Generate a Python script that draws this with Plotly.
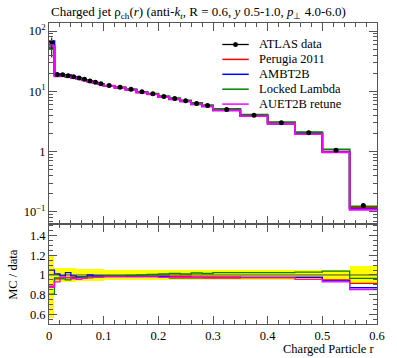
import plotly.graph_objects as go

# bin edges in r
edges = [0.0, 0.01, 0.02, 0.03, 0.04, 0.05, 0.06, 0.07, 0.08, 0.09, 0.10,
         0.12, 0.14, 0.16, 0.18, 0.20, 0.22, 0.24, 0.26, 0.28, 0.30,
         0.35, 0.40, 0.45, 0.50, 0.55, 0.60]

# ATLAS data rho_ch(r)
data = [65, 19.0, 18.8, 18.2, 17.4, 16.7, 15.8, 14.8, 14.1, 13.4,
        12.5, 11.7, 10.8, 9.8, 9.1, 8.2, 7.6, 7.0, 6.3, 5.8,
        5.0, 4.0, 3.0, 2.05, 1.05, 0.128]
# relative data uncertainties (up / down)
rel_err_up = [0.20, 0.07, 0.07, 0.07, 0.07, 0.065, 0.065, 0.06, 0.06, 0.06,
              0.055, 0.055, 0.055, 0.055, 0.055, 0.055, 0.055, 0.055, 0.055, 0.055,
              0.05, 0.05, 0.05, 0.05, 0.05, 0.09]
rel_err_dn = [0.44, 0.07, 0.07, 0.07, 0.07, 0.065, 0.065, 0.06, 0.06, 0.06,
              0.055, 0.055, 0.055, 0.055, 0.055, 0.055, 0.055, 0.055, 0.055, 0.055,
              0.05, 0.05, 0.05, 0.05, 0.05, 0.09]

# MC / data ratios
ratio_perugia = [0.885, 0.96, 0.97, 0.975, 0.975, 0.975, 0.975, 0.98, 0.98, 0.98,
                 0.985, 0.985, 0.985, 0.985, 0.985, 0.985, 0.985, 0.985, 0.98, 0.98,
                 0.98, 0.975, 0.975, 0.975, 0.95, 0.915]
ratio_ambt2b = [1.05, 1.01, 0.99, 1.025, 0.99, 0.98, 0.98, 1.0, 0.99, 0.99,
                0.985, 0.985, 0.985, 0.985, 0.985, 0.985, 0.97, 0.97, 0.97, 0.97,
                0.97, 0.975, 0.975, 0.975, 0.94, 0.87]
ratio_locked = [0.805, 0.97, 0.96, 0.95, 0.965, 0.97, 0.975, 0.98, 0.98, 0.985,
                0.99, 0.99, 0.995, 1.0, 1.005, 1.01, 1.015, 1.01, 1.02, 1.015,
                1.025, 1.025, 1.025, 1.03, 1.04, 0.965]
ratio_auet2b = [0.875, 0.93, 0.975, 0.97, 0.96, 0.955, 0.965, 0.97, 0.975, 0.975,
                0.98, 0.98, 0.98, 0.98, 0.98, 0.975, 0.975, 0.975, 0.975, 0.97,
                0.97, 0.97, 0.97, 0.955, 0.93, 0.85]

mc_names = ["Perugia 2011", "AMBT2B", "Locked Lambda", "AUET2B retune"]
mc_colors = ["#ff0000", "#0000ff", "#008000", "#ff00ff"]
mc_ratios = [ratio_perugia, ratio_ambt2b, ratio_locked, ratio_auet2b]

legend_labels = ["ATLAS data"] + mc_names
legend_colors = ["black"] + mc_colors

x_tickvals = [0, 0.1, 0.2, 0.3, 0.4, 0.5, 0.6]
x_ticktext = ["0", "0.1", "0.2", "0.3", "0.4", "0.5", "0.6"]

centers = [(a + b) / 2 for a, b in zip(edges[:-1], edges[1:])]
widths = [b - a for a, b in zip(edges[:-1], edges[1:])]

FONT = "Liberation Serif"
W, H = 397, 358
ML, MR, MT, MB = 49, 13, 23, 34
PW, PH = W - ML - MR, H - MT - MB

def px_x(px):
    return (px - ML) / PW

def px_y(py):
    return (H - MB - py) / PH

fig = go.Figure()

def step(vals):
    return list(edges), list(vals) + [vals[-1]]

# ---- ratio panel: yellow data band
fig.add_trace(go.Bar(x=centers, width=widths,
                     base=[1 - e for e in rel_err_dn],
                     y=[u + d for u, d in zip(rel_err_up, rel_err_dn)],
                     marker=dict(color="#ffff00", line=dict(width=0)),
                     xaxis="x2", yaxis="y2", showlegend=False, hoverinfo="skip"))
fig.add_trace(go.Scatter(x=[0, 0.6], y=[1, 1], mode="lines",
                         line=dict(color="#444444", width=1),
                         xaxis="x2", yaxis="y2", showlegend=False))

for name, col, rat in zip(mc_names, mc_colors, mc_ratios):
    mc = [d * r for d, r in zip(data, rat)]
    sx, sy = step(mc)
    fig.add_trace(go.Scatter(x=sx, y=sy, mode="lines", line_shape="hv",
                             name=name, line=dict(color=col, width=1.8),
                             xaxis="x", yaxis="y", showlegend=False))
    rx, ry = step(rat)
    fig.add_trace(go.Scatter(x=rx, y=ry, mode="lines", line_shape="hv",
                             name=name, line=dict(color=col, width=1.3),
                             xaxis="x2", yaxis="y2", showlegend=False))

# data markers on top
fig.add_trace(go.Scatter(x=centers, y=data, mode="markers", showlegend=False,
                         name="ATLAS data",
                         marker=dict(color="black", size=5),
                         error_y=dict(type="data", symmetric=False,
                                      array=[v * e for v, e in zip(data, rel_err_up)],
                                      arrayminus=[v * e for v, e in zip(data, rel_err_dn)],
                                      color="black", thickness=1, width=0),
                         xaxis="x", yaxis="y"))

axcol = "#555555"
common = dict(showline=True, linecolor=axcol, linewidth=1, mirror="ticks",
              ticks="inside", tickcolor=axcol, showgrid=False, zeroline=False)

minor_log = [m * 10 ** k for k in (-2, -1, 0, 1, 2) for m in range(2, 10)]

# manual legend (lines + text)
shapes = []
annotations = []
leg_x0, leg_x1, leg_tx = 226, 253, 261
for i, (lab, col) in enumerate(zip(legend_labels, legend_colors)):
    yy = 44.5 + i * 14.9
    shapes.append(dict(type="line", xref="paper", yref="paper",
                       x0=px_x(leg_x0), x1=px_x(leg_x1), y0=px_y(yy), y1=px_y(yy),
                       line=dict(color=col, width=1.5 if i else 1.3)))
    if i == 0:
        cx = (leg_x0 + leg_x1) / 2
        shapes.append(dict(type="circle", xref="paper", yref="paper",
                           x0=px_x(cx - 2.5), x1=px_x(cx + 2.5),
                           y0=px_y(yy + 2.5), y1=px_y(yy - 2.5),
                           fillcolor="black", line=dict(color="black", width=0)))
    annotations.append(dict(text=lab, xref="paper", yref="paper",
                            x=px_x(leg_tx), y=px_y(yy), xanchor="left", yanchor="middle",
                            showarrow=False, font=dict(size=12.5)))

annotations += [
    dict(text="Charged Particle r", xref="paper", yref="paper", x=1, y=px_y(349),
         xanchor="right", yanchor="middle", showarrow=False, font=dict(size=12.5)),
    dict(text="MC / data", xref="paper", yref="paper", x=px_x(12), y=px_y(275),
         textangle=-90, xanchor="center", yanchor="middle", showarrow=False,
         font=dict(size=12.5)),
    dict(text="Charged jet ρ<sub>ch</sub>(<i>r</i>) (anti-<i>k</i><sub><i>t</i></sub>, R = 0.6, <i>y</i> 0.5-1.0, <i>p</i><sub>⊥</sub> 4.0-6.0)",
         xref="paper", yref="paper", x=0, y=px_y(12), xanchor="left", yanchor="middle",
         showarrow=False, font=dict(size=13)),
]

fig.update_layout(
    width=W, height=H,
    margin=dict(l=ML, r=MR, t=MT, b=MB),
    paper_bgcolor="white", plot_bgcolor="white",
    font=dict(family=FONT, size=12, color="black"),
    bargap=0, barmode="overlay",
    showlegend=False,
    shapes=shapes,
    annotations=annotations,
    xaxis=dict(domain=[0, 1], range=[0, 0.6], anchor="y", showticklabels=False,
               tickvals=x_tickvals, ticklen=8,
               minor=dict(dtick=0.02, ticklen=4, ticks="inside", tickcolor=axcol),
               **common),
    yaxis=dict(domain=[px_y(224), 1], type="log", range=[-1.2, 2.133], anchor="x",
               tickvals=[0.1, 1, 10, 100],
               ticktext=["10<sup>−1</sup>", "1", "10<sup>1</sup>", "10<sup>2</sup>"],
               ticklen=8, tickfont=dict(size=12.5),
               minor=dict(tickvals=minor_log, ticklen=4, ticks="inside", tickcolor=axcol),
               **common),
    xaxis2=dict(domain=[0, 1], range=[0, 0.6], anchor="y2",
                tickvals=x_tickvals, ticktext=x_ticktext,
                ticklen=8, tickfont=dict(size=12.5),
                minor=dict(dtick=0.02, ticklen=4, ticks="inside", tickcolor=axcol),
                **common),
    yaxis2=dict(domain=[0, px_y(224)], range=[0.5, 1.52], anchor="x2",
                tickvals=[0.6, 0.8, 1.0, 1.2, 1.4],
                ticktext=["0.6", "0.8", "1", "1.2", "1.4"], ticklen=8,
                tickfont=dict(size=12.5),
                minor=dict(dtick=0.05, ticklen=4, ticks="inside", tickcolor=axcol),
                **common),
)

fig.write_html("out.html", config={"displayModeBar": False},
               post_script="document.body.style.margin='0';document.body.style.overflow='hidden';")
